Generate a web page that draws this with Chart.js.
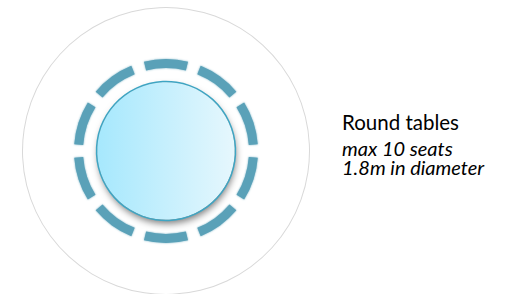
<!DOCTYPE html>
<html>
<head>
<meta charset="utf-8">
<script src="https://cdn.jsdelivr.net/npm/chart.js@4"></script>
<style>
  html, body { margin: 0; padding: 0; background: #fff; width: 512px; height: 294px; overflow: hidden; }
  #wrap { position: absolute; left: 22px; top: 7px; width: 288px; height: 288px; }
  .txt { position: absolute; left: 342px; font-family: Lato, "Liberation Sans", sans-serif; color: #000; line-height: 1; white-space: nowrap; }
  #t1 { top: 111.5px; font-size: 20.5px; }
  #t2 { top: 137.5px; font-size: 20px; font-style: italic; }
  #t3 { top: 156.5px; font-size: 20px; font-style: italic; }
</style>
</head>
<body>
<div id="wrap"><canvas id="tableChart"></canvas></div>
<div class="txt" id="t1">Round tables</div>
<div class="txt" id="t2">max 10 seats</div>
<div class="txt" id="t3">1.8m in diameter</div>
<script>
// seats around the table: each seat arc followed by a gap (degrees)
const seatLabels = ["Seat 1", "", "Seat 2", "", "Seat 3", "", "Seat 4", "", "Seat 5", "",
                    "Seat 6", "", "Seat 7", "", "Seat 8", "", "Seat 9", "", "Seat 10", ""];
const seatArcs = [27.7, 8.3, 27.7, 8.3, 27.7, 8.3, 27.7, 8.3, 27.7, 8.3,
                  27.7, 8.3, 27.7, 8.3, 27.7, 8.3, 27.7, 8.3, 27.7, 8.3];
// ring thickness (px) from the outside in
const ringNames = ["room", "aisle", "seats", "gap", "edge", "table"];
const ringWidths = [1, 51, 9, 12.75, 1.5, 68.75];

const seatColor = "#5aa1b8";
const seatIndex = 2;
const tableIndex = 5;

const ctx = document.getElementById("tableChart").getContext("2d");

function tableFill(context) {
  const chart = context.chart;
  const area = chart.chartArea;
  if (!area) return "#c8f0fd";
  const cx = (area.left + area.right) / 2;
  const r = ringWidths[tableIndex];
  const g = chart.ctx.createLinearGradient(cx - r, 0, cx + r, 0);
  g.addColorStop(0, "#a6e8fd");
  g.addColorStop(1, "#e6f7fd");
  return g;
}

const softEdges = {
  id: "softEdges",
  beforeDatasetDraw(chart, args) {
    const c = chart.ctx;
    c.save();
    if (args.index === tableIndex) {
      c.shadowColor = "rgba(0,0,0,0.5)";
      c.shadowBlur = 7;
      c.shadowOffsetX = 1;
      c.shadowOffsetY = 4;
    } else if (args.index === seatIndex) {
      c.shadowColor = "rgba(90,161,184,0.9)";
      c.shadowBlur = 2;
    }
  },
  afterDatasetDraw(chart) {
    chart.ctx.restore();
  }
};

function ring(i, data, color) {
  return {
    label: ringNames[i],
    data: data,
    backgroundColor: color,
    borderWidth: 0,
    hoverBorderWidth: 0,
    weight: ringWidths[i],
  };
}

new Chart(ctx, {
  type: "doughnut",
  data: {
    labels: seatLabels,
    datasets: [
      ring(0, [1], "#d9d9d9"),
      ring(1, [1], "rgba(0,0,0,0)"),
      ring(2, seatArcs, seatArcs.map((v, i) => (i % 2 === 0 ? seatColor : "rgba(0,0,0,0)"))),
      ring(3, [1], "rgba(0,0,0,0)"),
      ring(4, [1], "#3ea5c3"),
      ring(5, [1], tableFill),
    ],
  },
  options: {
    responsive: true,
    maintainAspectRatio: false,
    animation: false,
    cutout: 0,
    rotation: -13.85,
    events: [],
    plugins: {
      legend: { display: false },
      tooltip: { enabled: false },
    },
  },
  plugins: [softEdges],
});
</script>
</body>
</html>
